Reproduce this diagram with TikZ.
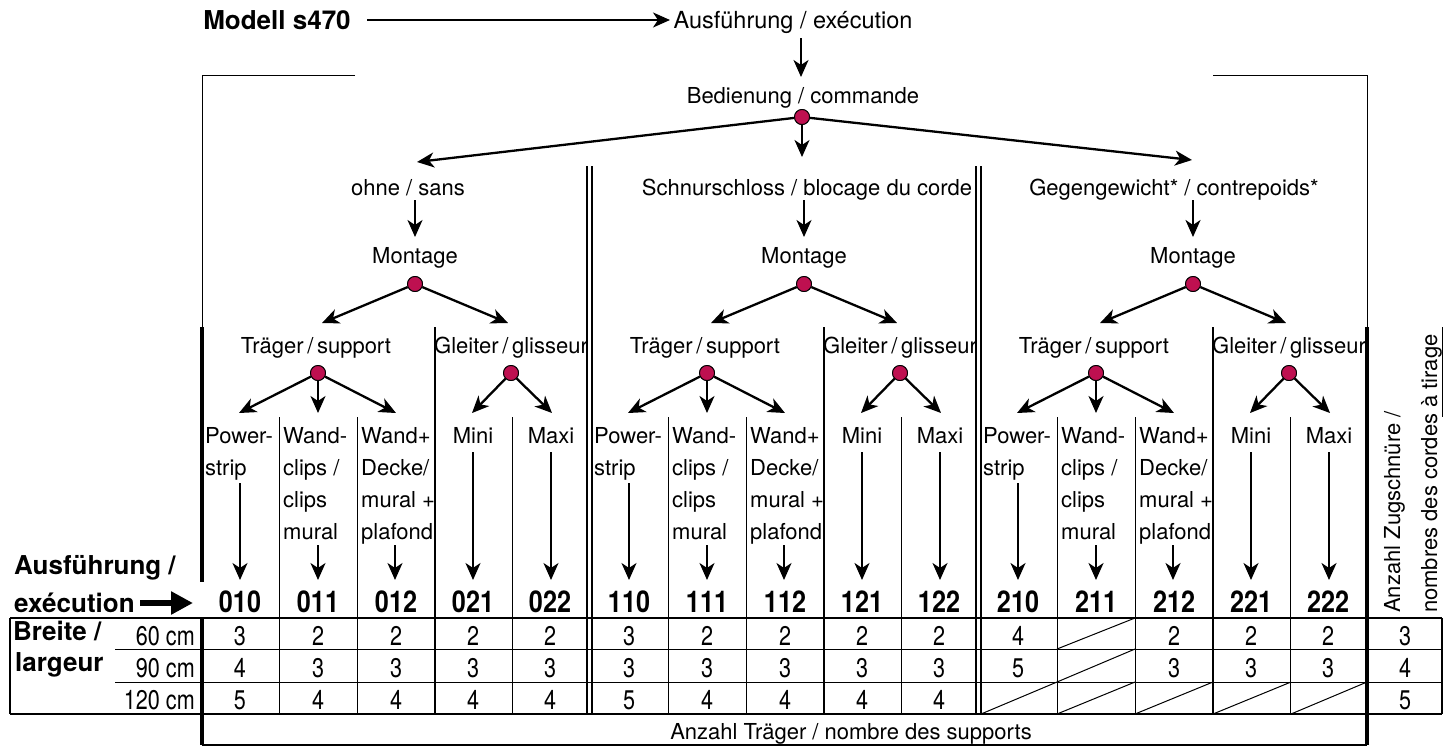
\documentclass[tikz,border=0pt]{standalone}
\usepackage{fontspec}
\setmainfont{TeX Gyre Heros}
\newfontfamily\condf[FakeStretch=0.8]{TeX Gyre Heros}
\newfontfamily\codef[FakeStretch=0.84]{TeX Gyre Heros}
\usetikzlibrary{arrows.meta}
\definecolor{dotred}{RGB}{190,16,80}
\tikzset{
  arr/.style={line width=2.3pt,-{Stealth[length=17pt,width=15pt,inset=5pt]}},
  fatarr/.style={line width=6pt,-{Triangle[length=22pt,width=22pt]}},
  dotn/.style={circle,fill=dotred,draw=black,line width=0.9pt,minimum size=15pt,inner sep=0pt},
  txt/.style={inner sep=0pt,font=\fontsize{22pt}{26pt}\selectfont},
  bld/.style={inner sep=0pt,font=\fontsize{26pt}{30pt}\selectfont\bfseries},
  codetxt/.style={inner sep=0pt,anchor=base,font=\codef\bfseries\fontsize{30pt}{34pt}\selectfont},
  num/.style={inner sep=0pt,anchor=base,font=\condf\fontsize{27pt}{30pt}\selectfont},
  thinln/.style={line width=1pt},
  framel/.style={line width=1.6pt},
  heavy/.style={line width=4pt},
  dblln/.style={line width=1.8pt},
}
\begin{document}
\begin{tikzpicture}[x=1pt,y=-1pt]
\useasboundingbox (0,0) rectangle (1447,747);
\fill[white] (0,0) rectangle (1447,747);

% ---------- frame lines ----------
\draw[thinln] (355,75) -- (202,75) -- (202,327);
\draw[thinln] (1213,75) -- (1367,75) -- (1367,327);
\draw[heavy] (202,327) -- (202,582);
\draw[heavy] (202,618) -- (202,745);
\draw[heavy] (1367,327) -- (1367,745);
\draw[thinln] (1442,327) -- (1442,417);
\foreach \k in {0,1,2}{
  \pgfmathsetmacro\o{389*\k}
  \draw[framel] (\o+435,327) -- (\o+435,714);
  \foreach \xx in {279,357,512}{
    \draw[thinln] (\o+\xx,417) -- (\o+\xx,714);
  }
}
\foreach \xx in {587,592,976,981}{
  \draw[dblln] (\xx,166) -- (\xx,714);
}
% table grid
\draw[framel] (10,618) -- (1442,618);
\draw[thinln] (115,649) -- (1442,649);
\draw[thinln] (115,682) -- (1442,682);
\draw[framel] (10,714) -- (1442,714);
\draw[framel] (202,745) -- (1367,745);
\draw[framel] (10,618) -- (10,714);
\draw[framel] (1442,618) -- (1442,714);
% diagonal strokes (not available)
\draw[thinln] (1057,649) -- (1135,618);
\draw[thinln] (1057,682) -- (1135,649);
\foreach \xa/\xb in {981/1057,1057/1135,1135/1213,1213/1291,1291/1367}{
  \draw[thinln] (\xa,714) -- (\xb,682);
}

% ---------- top ----------
\node[bld,anchor=base] (modell) at (277,29) {Modell s470};
\node[txt,anchor=base,font=\fontsize{23.5pt}{27pt}\selectfont] (ausf) at (793,28) {Ausführung / exécution};
\coordinate (mA) at (367,20);
\coordinate (mB) at (670,20);
\draw[arr] (mA) -- (mB);
\coordinate (aA) at (801,38);
\coordinate (aB) at (801,77);
\draw[arr] (aA) -- (aB);
\node[txt,anchor=base] (bed) at (803,103) {Bedienung / commande};
\node[dotn] (d0) at (802,117) {};
\coordinate (tl) at (417,162);
\coordinate (tm) at (802,157);
\coordinate (tr) at (1192,160);
\draw[arr] (d0) -- (tl);
\draw[arr] (d0) -- (tm);
\draw[arr] (d0) -- (tr);
\node[dotn] at (d0) {};

% headings
\node[txt,anchor=base] (head0) at (408,195) {ohne / sans};
\node[txt,anchor=base] (head1) at (807,195) {Schnurschloss / blocage du corde};
\node[txt,anchor=base] (head2) at (1174,195) {Gegengewicht* / contrepoids*};

% ---------- sections ----------
\foreach \k in {0,1,2}{
  \pgfmathsetmacro\o{389*\k}
  \coordinate (hA\k) at (\o+415,200);
  \coordinate (hB\k) at (\o+415,237);
  \draw[arr] (hA\k) -- (hB\k);
  \node[txt,anchor=base] (mont\k) at (\o+415,263) {Montage};
  \node[dotn] (dm\k) at (\o+415,284) {};
  \coordinate (mL\k) at (\o+322,323);
  \coordinate (mR\k) at (\o+508,323);
  \draw[arr] (dm\k) -- (mL\k);
  \draw[arr] (dm\k) -- (mR\k);
  \node[dotn] at (dm\k) {};
  \node[txt,anchor=base] (tra\k) at (\o+316,353) {Träger\,/\,support};
  \node[txt,anchor=base] (gle\k) at (\o+511,353) {Gleiter\,/\,glisseur};
  \node[dotn] (dt\k) at (\o+318,373) {};
  \node[dotn] (dg\k) at (\o+511,373) {};
  \coordinate (tA\k) at (\o+239,413);
  \coordinate (tB\k) at (\o+318,413);
  \coordinate (tC\k) at (\o+396,413);
  \coordinate (gA\k) at (\o+472,413);
  \coordinate (gB\k) at (\o+552,413);
  \draw[arr] (dt\k) -- (tA\k);
  \draw[arr] (dt\k) -- (tB\k);
  \draw[arr] (dt\k) -- (tC\k);
  \draw[arr] (dg\k) -- (gA\k);
  \draw[arr] (dg\k) -- (gB\k);
  \node[dotn] at (dt\k) {};
  \node[dotn] at (dg\k) {};
  % leaf labels
  \node[txt,anchor=base west] (pa\k) at (\o+205,443) {Power-};
  \node[txt,anchor=base west] (pb\k) at (\o+205,475) {strip};
  \node[txt,anchor=base west] (wa\k) at (\o+283,443) {Wand-};
  \node[txt,anchor=base west] (wb\k) at (\o+283,475) {clips /};
  \node[txt,anchor=base west] (wc\k) at (\o+283,507) {clips};
  \node[txt,anchor=base west] (wd\k) at (\o+283,539) {mural};
  \node[txt,anchor=base west] (da\k) at (\o+361,443) {Wand+};
  \node[txt,anchor=base west] (db\k) at (\o+361,475) {Decke/};
  \node[txt,anchor=base west] (dc\k) at (\o+361,507) {mural +};
  \node[txt,anchor=base west] (dd\k) at (\o+361,539) {plafond};
  \node[txt,anchor=base] (mini\k) at (\o+473,443) {Mini};
  \node[txt,anchor=base] (maxi\k) at (\o+551,443) {Maxi};
  % leaf arrows
  \coordinate (lA\k) at (\o+240,483); \coordinate (lB\k) at (\o+240,580);
  \coordinate (lC\k) at (\o+318,545); \coordinate (lD\k) at (\o+318,580);
  \coordinate (lE\k) at (\o+395,545); \coordinate (lF\k) at (\o+395,580);
  \coordinate (lG\k) at (\o+473,452); \coordinate (lH\k) at (\o+473,580);
  \coordinate (lI\k) at (\o+551,452); \coordinate (lJ\k) at (\o+551,580);
  \draw[arr] (lA\k) -- (lB\k);
  \draw[arr] (lC\k) -- (lD\k);
  \draw[arr] (lE\k) -- (lF\k);
  \draw[arr] (lG\k) -- (lH\k);
  \draw[arr] (lI\k) -- (lJ\k);
}

% codes
\foreach \xx/\t in {240/010,318/011,396/012,473/021,550/022,
                    629/110,707/111,785/112,862/121,939/122,
                    1018/210,1096/211,1174/212,1251/221,1328/222}{
  \node[codetxt] (c\t) at (\xx,612) {\t};
}

% table values
\foreach \xx/\a/\b/\c in {240/3/4/5,318/2/3/4,396/2/3/4,473/2/3/4,550/2/3/4,
                          629/3/3/5,707/2/3/4,785/2/3/4,862/2/3/4,939/2/3/4,
                          1405/3/4/5}{
  \node[num] (v\xx a) at (\xx,645) {\a};
  \node[num] (v\xx b) at (\xx,677) {\b};
  \node[num] (v\xx c) at (\xx,709) {\c};
}
\foreach \xx/\a/\b in {1018/4/5,1174/2/3,1251/2/3,1328/2/3}{
  \node[num] (v\xx a) at (\xx,645) {\a};
  \node[num] (v\xx b) at (\xx,677) {\b};
}

% left labels
\node[bld,anchor=base west] (ausl) at (14,574) {Ausführung /};
\node[bld,anchor=base west] (exel) at (14,612) {exécution};
\coordinate (eA) at (140,603);
\coordinate (eB) at (193,603);
\draw[fatarr] (eA) -- (eB);
\node[bld,anchor=base west] (breite) at (13,640) {Breite /};
\node[bld,anchor=base west] (largeur) at (15,671) {largeur};
\node[num,anchor=base east] (w60) at (195,645) {60 cm};
\node[num,anchor=base east] (w90) at (195,677) {90 cm};
\node[num,anchor=base east] (w120) at (195,709) {120 cm};

% bottom & right labels
\node[txt,anchor=base] (anzt) at (851,739) {Anzahl Träger / nombre des supports};
\node[txt,anchor=base west,rotate=90] (anzz1) at (1400,613) {Anzahl Zugschnüre /};
\node[txt,anchor=base west,rotate=90] (anzz2) at (1437,613) {nombres des cordes à tirage};
\end{tikzpicture}
\end{document}
